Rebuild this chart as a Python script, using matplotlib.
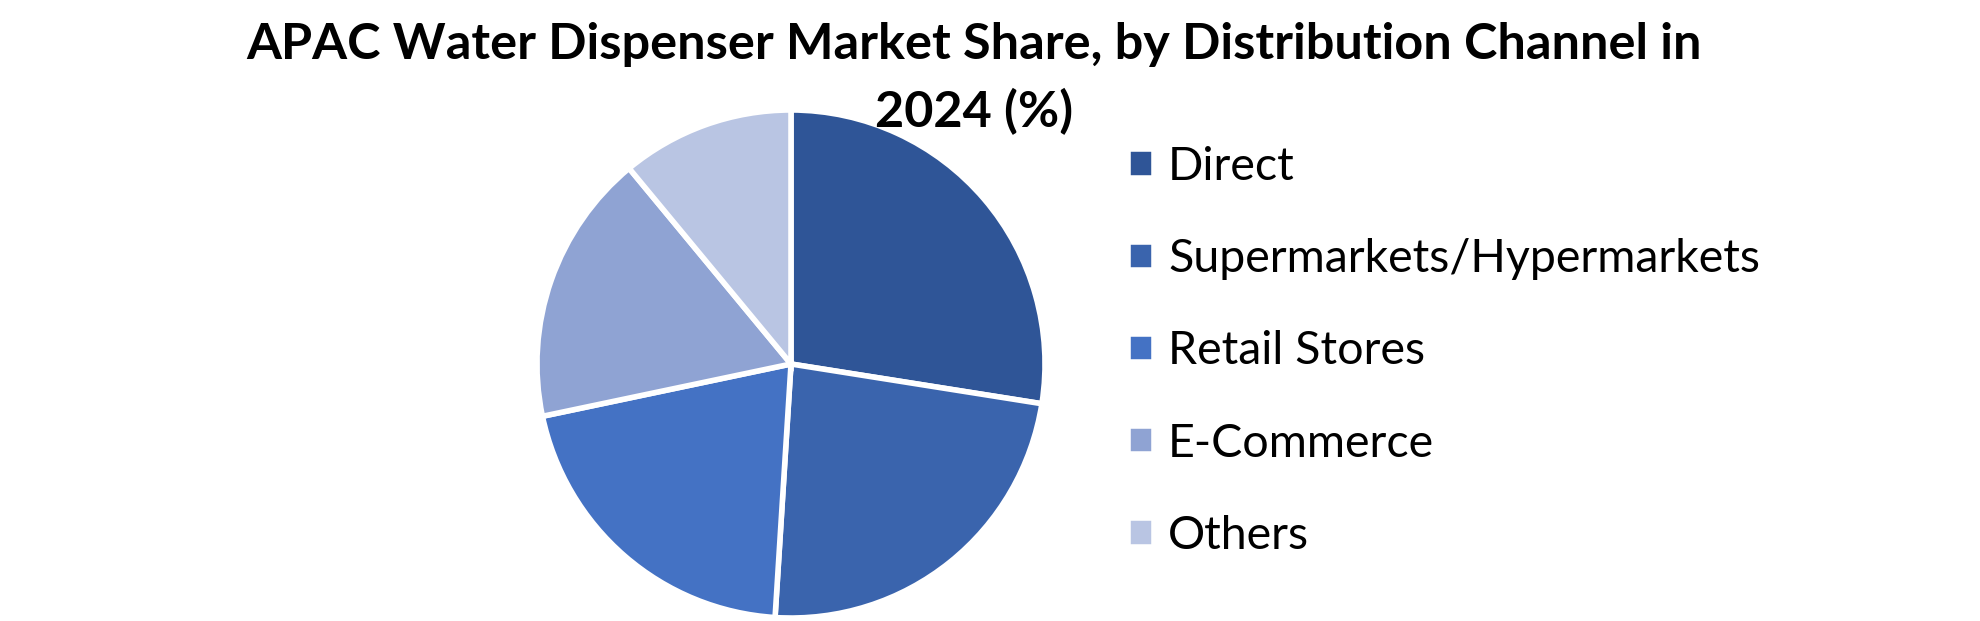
import matplotlib
matplotlib.use('Agg')
import matplotlib.pyplot as plt

plt.rcParams['font.family'] = ['Lato', 'DejaVu Sans']

# share by distribution channel (%)
channels = ['Direct', 'Supermarkets/Hypermarkets', 'Retail Stores', 'E-Commerce', 'Others']
shares = [27.5, 23.5, 20.7, 17.3, 11.0]
colours = ['#2F5597', '#3A64AD', '#4472C4', '#8FA3D3', '#B9C5E3']

W, H = 1980, 621
fig = plt.figure(figsize=(W / 100, H / 100), dpi=100)

# pie centred at (791, 364) px, radius ~254 px
cx, cy, r = 791, 364, 254
ax = fig.add_axes([(cx - r) / W, (H - cy - r) / H, 2 * r / W, 2 * r / H])
wedges, _ = ax.pie(shares, colors=colours, startangle=90, counterclock=False,
                   wedgeprops=dict(edgecolor='white', linewidth=4))
ax.set_xlim(-1.0, 1.0)
ax.set_ylim(-1.0, 1.0)
ax.set_aspect('equal')

fig.text(0.492, 1 - 59 / H, 'APAC Water Dispenser Market Share, by Distribution Channel in',
         ha='center', va='baseline', fontsize=36.3, fontweight='bold')
fig.text(0.492, 1 - 127 / H, '2024 (%)',
         ha='center', va='baseline', fontsize=36.3, fontweight='bold')

fig.legend(wedges, channels, loc='upper left',
           bbox_to_anchor=(1128 / W, 1 - 146 / H),
           frameon=False, fontsize=33.5,
           handlelength=0.56, handleheight=0.56, handletextpad=0.3,
           labelspacing=1.08, borderaxespad=0, borderpad=0)

fig.savefig('out.png', dpi=100)
